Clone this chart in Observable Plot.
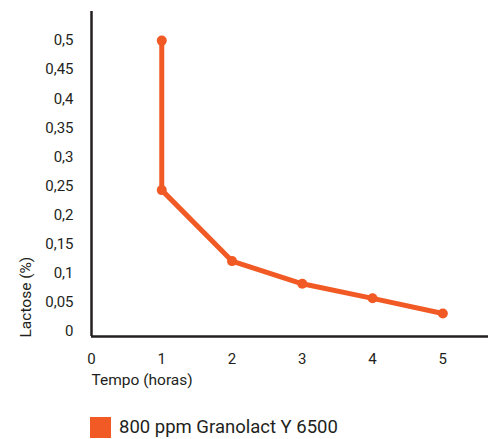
<!DOCTYPE html>
<html>
<head>
<meta charset="utf-8">
<script src="https://cdn.jsdelivr.net/npm/d3@7"></script>
<script src="https://cdn.jsdelivr.net/npm/@observablehq/plot@0.6"></script>
<style>
  body { margin: 0; background: #fff; font-family: Roboto, "Liberation Sans", sans-serif; }
  #wrap { position: relative; width: 495px; height: 439px; }
  #legend { position: absolute; left: 90px; top: 417px; display: flex; align-items: center; gap: 8px;
            font-size: 18.5px; color: #231f20; line-height: 21px; }
  #legend .sw { width: 21px; height: 21px; background: #f15a24; }
</style>
</head>
<body>
<div id="wrap"><div id="chart"></div><div id="legend"><span class="sw"></span><span>800 ppm Granolact Y 6500</span></div></div>
<script>
const hours = [1, 1, 2, 3, 4, 5];
const lactose = [0.5, 0.243, 0.121, 0.082, 0.057, 0.031];
const xTicks = [0, 1, 2, 3, 4, 5];
const yTicks = [0, 0.05, 0.1, 0.15, 0.2, 0.25, 0.3, 0.35, 0.4, 0.45, 0.5];
const yTickLabels = ["0", "0,05", "0,1", "0,15", "0,2", "0,25", "0,3", "0,35", "0,4", "0,45", "0,5"];
const xTitle = "Tempo (horas)";
const yTitle = "Lactose (%)";

const data = hours.map((h, i) => ({hours: h, lactose: lactose[i]}));
const ink = "#231f20";
const orange = "#f15a24";

const chart = Plot.plot({
  width: 495,
  height: 400,
  marginLeft: 91,
  marginRight: 7,
  marginTop: 11,
  marginBottom: 64,
  style: {fontFamily: "Roboto, 'Liberation Sans', sans-serif", fontSize: "15px", color: ink, background: "white"},
  x: {domain: [0, 5.65], ticks: xTicks, tickSize: 0, tickPadding: 17, label: null, tickFormat: d => String(d)},
  y: {domain: [0, 0.55], insetBottom: 5, ticks: yTicks, tickSize: 0, tickPadding: 18, label: null,
      tickFormat: d => yTickLabels[yTicks.findIndex(t => Math.abs(t - d) < 1e-9)]},
  marks: [
    Plot.ruleX([0], {stroke: ink, strokeWidth: 2.5}),
    Plot.ruleY([0], {stroke: ink, strokeWidth: 2.5, dy: 5}),
    Plot.line(data, {x: "hours", y: "lactose", stroke: orange, strokeWidth: 5, strokeLinejoin: "round"}),
    Plot.dot(data, {x: "hours", y: "lactose", r: 5, fill: orange}),
    Plot.text([xTitle], {frameAnchor: "bottom-left", text: d => d, dy: 48, textAnchor: "start", fontSize: 15.5, fill: ink}),
    Plot.text([yTitle], {frameAnchor: "bottom-left", text: d => d, rotate: -90, dx: -61, dy: 1, textAnchor: "start", fontSize: 15.5, fill: ink})
  ]
});
document.getElementById("chart").appendChild(chart);
</script>
</body>
</html>
